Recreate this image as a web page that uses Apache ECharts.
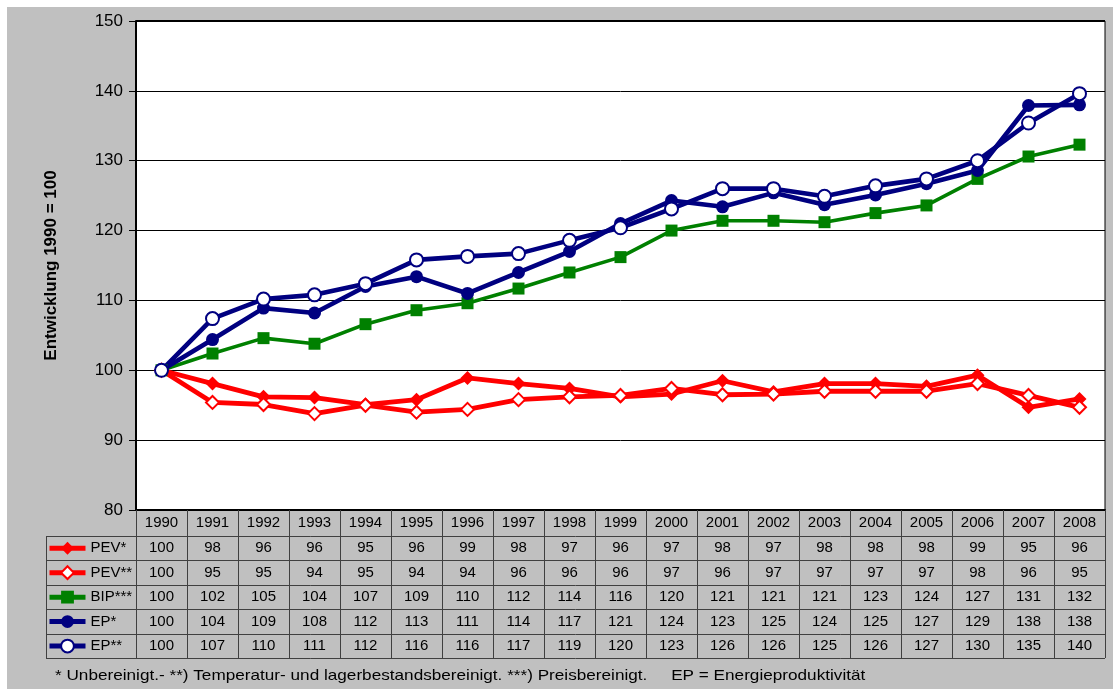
<!DOCTYPE html>
<html>
<head>
<meta charset="utf-8">
<script src="https://cdn.jsdelivr.net/npm/echarts@6/dist/echarts.min.js"></script>
<style>
html,body{margin:0;padding:0;background:#fff;}
#main{width:1113px;height:689px;}
</style>
</head>
<body>
<div id="main"></div>
<script>
// ---- data ----
const YEARS = ['1990','1991','1992','1993','1994','1995','1996','1997','1998','1999','2000','2001','2002','2003','2004','2005','2006','2007','2008'];
const SERIES_NAMES = ['PEV*','PEV**','BIP***','EP*','EP**'];
// plotted values
const PEV_U = [100, 98.1, 96.2, 96.1, 95.1, 95.8, 98.9, 98.1, 97.4, 96.2, 96.6, 98.5, 96.9, 98.1, 98.1, 97.7, 99.3, 94.7, 95.9];
const PEV_B = [100, 95.4, 95.1, 93.8, 95.0, 94.0, 94.4, 95.8, 96.2, 96.4, 97.4, 96.5, 96.6, 97.0, 97.0, 97.0, 98.1, 96.4, 94.7];
const BIP   = [100, 102.4, 104.6, 103.8, 106.6, 108.6, 109.6, 111.7, 114.0, 116.2, 120.0, 121.4, 121.4, 121.2, 122.5, 123.6, 127.4, 130.6, 132.3];
const EP_U  = [100, 104.4, 108.9, 108.2, 112.0, 113.4, 111.0, 114.0, 117.0, 121.0, 124.3, 123.4, 125.4, 123.7, 125.1, 126.7, 128.6, 137.9, 138.0];
const EP_B  = [100, 107.4, 110.2, 110.8, 112.4, 115.8, 116.3, 116.7, 118.6, 120.4, 123.1, 126.0, 126.0, 124.9, 126.4, 127.4, 130.0, 135.4, 139.6];
// data table values (as printed)
const T_PEV_U = [100,98,96,96,95,96,99,98,97,96,97,98,97,98,98,98,99,95,96];
const T_PEV_B = [100,95,95,94,95,94,94,96,96,96,97,96,97,97,97,97,98,96,95];
const T_BIP   = [100,102,105,104,107,109,110,112,114,116,120,121,121,121,123,124,127,131,132];
const T_EP_U  = [100,104,109,108,112,113,111,114,117,121,124,123,125,124,125,127,129,138,138];
const T_EP_B  = [100,107,110,111,112,116,116,117,119,120,123,126,126,125,126,127,130,135,140];
const Y_TICKS = [80,90,100,110,120,130,140,150];
const Y_TITLE = 'Entwicklung 1990 = 100';
const FOOTNOTE = '* Unbereinigt.- **) Temperatur- und lagerbestandsbereinigt. ***) Preisbereinigt.     EP = Energieproduktivität';

// ---- layout ----
const FONT = 'Liberation Sans, Arial, sans-serif';
const RED = '#ff0000', GREEN = '#008000', NAVY = '#000080';
const GL = 136, GR = 1105, GT = 21, GB = 510;
const ROW0 = 536, ROWH = 24.45;
const TABLE_ROWS = [T_PEV_U, T_PEV_B, T_BIP, T_EP_U, T_EP_B];

const chart = echarts.init(document.getElementById('main'), null, {renderer:'canvas'});

const xAxes = [{
  type:'category', data: YEARS, gridIndex:0, position:'bottom', boundaryGap:true,
  axisLine:{show:true, lineStyle:{color:'#000', width:2}},
  axisTick:{show:true, length:148, lineStyle:{color:'#404040', width:1}},
  axisLabel:{margin:13, verticalAlign:'middle', fontSize:15, color:'#000', fontFamily:FONT, interval:0}
}];
TABLE_ROWS.forEach((row, i) => {
  const center = ROW0 + ROWH * i + ROWH / 2;
  xAxes.push({
    type:'category', data: YEARS, gridIndex:0, position:'bottom', offset: center - GB,
    axisLine:{show:false}, axisTick:{show:false}, splitLine:{show:false},
    axisLabel:{margin:0, verticalAlign:'middle', fontSize:15, color:'#000', fontFamily:FONT, interval:0,
      formatter:(v, idx) => String(row[idx])}
  });
});

function lineSeries(name, data, color, symbol, filled, width, size) {
  return {
    name, type:'line', data, xAxisIndex:0, yAxisIndex:0,
    symbol, symbolSize:size, showAllSymbol:true,
    lineStyle:{color, width},
    itemStyle: filled ? {color, borderColor:color, borderWidth:0}
                      : {color:'#fff', borderColor:color, borderWidth:2},
    emphasis:{disabled:true},
    animation:false, z: 3
  };
}

const graphics = [];
graphics.push({type:'rect', shape:{x:7, y:7, width:1106, height:682}, style:{fill:'#c0c0c0'}, z:-10, silent:true});
// table horizontal lines
for (let i = 0; i <= 5; i++) {
  const y = Math.round(ROW0 + ROWH * i) + 0.5;
  graphics.push({type:'line', shape:{x1:46, y1:y, x2:GR, y2:y}, style:{stroke:'#404040', lineWidth:1}, z:5, silent:true});
}
graphics.push({type:'line', shape:{x1:46.5, y1:ROW0, x2:46.5, y2:Math.round(ROW0+ROWH*5)+0.5}, style:{stroke:'#404040', lineWidth:1}, z:5, silent:true});
// top border emphasis
graphics.push({type:'line', shape:{x1:GL, y1:GT, x2:GR, y2:GT}, style:{stroke:'#000', lineWidth:2}, z:5, silent:true});
graphics.push({type:'text', left:55, top:668, scaleX:1.144, style:{text:FOOTNOTE, font:'15px ' + FONT, fill:'#000'}, silent:true});

chart.setOption({
  backgroundColor:'#fff',
  animation:false,
  grid:{left:GL, right:1113-GR, top:GT, bottom:689-GB, show:true, backgroundColor:'#fff', borderColor:'#000', borderWidth:1, containLabel:false},
  xAxis: xAxes,
  yAxis:{
    type:'value', min:Y_TICKS[0], max:Y_TICKS[Y_TICKS.length-1], interval:10,
    name:Y_TITLE, nameLocation:'middle', nameRotate:90, nameGap:76,
    nameTextStyle:{fontSize:17, fontWeight:'bold', color:'#000', fontFamily:FONT},
    axisLine:{show:true, lineStyle:{color:'#000', width:2}},
    axisTick:{show:true, length:7, lineStyle:{color:'#000'}},
    axisLabel:{fontSize:17, color:'#000', margin:13, fontFamily:FONT},
    splitLine:{show:true, lineStyle:{color:'#000', width:1}}
  },
  legend:{
    orient:'vertical', left:47, top: ROW0 + ROWH/2 - 8, padding:0,
    itemWidth:36, itemHeight:16, itemGap: ROWH - 16, selectedMode:false,
    lineStyle:{width:5},
    textStyle:{fontSize:15, lineHeight:16, color:'#000', fontFamily:FONT},
    data: SERIES_NAMES
  },
  series:[
    lineSeries(SERIES_NAMES[0], PEV_U, RED, 'diamond', true, 4.8, 14),
    lineSeries(SERIES_NAMES[1], PEV_B, RED, 'diamond', false, 4.8, 13),
    lineSeries(SERIES_NAMES[2], BIP, GREEN, 'rect', true, 3.6, 12),
    lineSeries(SERIES_NAMES[3], EP_U, NAVY, 'circle', true, 4.6, 13),
    lineSeries(SERIES_NAMES[4], EP_B, NAVY, 'circle', false, 4.6, 13)
  ],
  graphic: graphics
});
</script>
</body>
</html>
